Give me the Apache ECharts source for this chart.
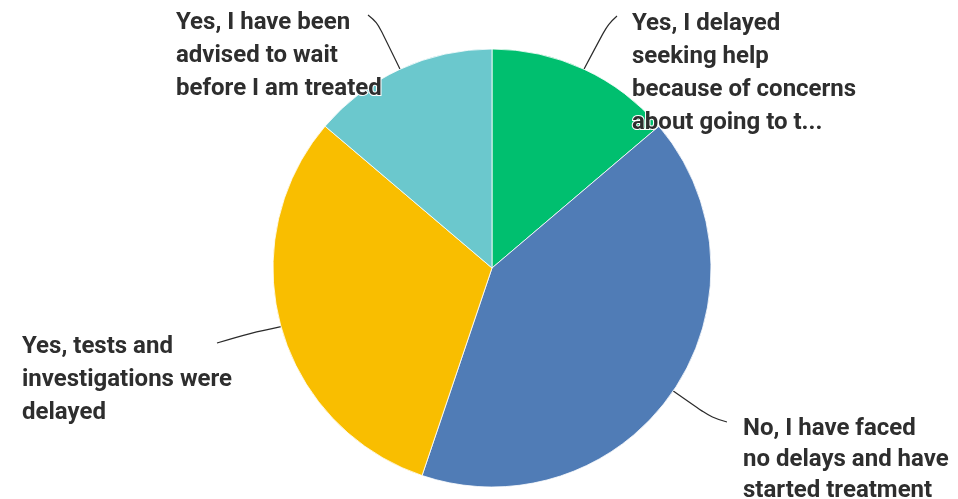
<!DOCTYPE html>
<html>
<head>
<meta charset="utf-8">
<script src="https://cdn.jsdelivr.net/npm/echarts@6/dist/echarts.min.js"></script>
<style>
  html, body { margin: 0; padding: 0; background: #ffffff; }
  #chart { width: 958px; height: 499px; }
</style>
</head>
<body>
<div id="chart"></div>
<script>
// ---- data ----
const labelLines = [
  ["Yes, I delayed", "seeking help", "because of concerns", "about going to t..."],
  ["No, I have faced", "no delays and have", "started treatment"],
  ["Yes, tests and", "investigations were", "delayed"],
  ["Yes, I have been", "advised to wait", "before I am treated"]
];
const categories = labelLines.map(l => l.join(' '));
const responses = [4, 12, 9, 4];
const colors = ["#00bf6f", "#507cb6", "#f9be00", "#6bc8cd"];

// ---- layout (label placement, not data) ----
const labelPos = [
  { x: 632, y: 7,   lh: 33, mid: [608, 24],  end: [617, 16] },
  { x: 743, y: 413, lh: 31, mid: [712, 418], end: [727, 422] },
  { x: 22,  y: 330, lh: 33, mid: [250, 333], end: [217, 343] },
  { x: 176, y: 6,   lh: 33, mid: [377, 22],  end: [368, 15] }
];

const chart = echarts.init(document.getElementById('chart'), null, { renderer: 'canvas' });
chart.setOption({
  animation: false,
  backgroundColor: '#ffffff',
  series: [{
    type: 'pie',
    center: [492, 268],
    radius: 219,
    startAngle: 90,
    clockwise: true,
    avoidLabelOverlap: false,
    data: categories.map((c, i) => ({
      name: c,
      value: responses[i],
      itemStyle: { color: colors[i] },
      label: { lineHeight: labelPos[i].lh }
    })),
    itemStyle: { borderColor: '#ffffff', borderWidth: 0.8 },
    label: {
      show: true,
      position: 'outside',
      formatter: p => labelLines[p.dataIndex].join('\n'),
      fontFamily: 'Roboto, "Noto Sans", sans-serif',
      fontWeight: 'bold',
      fontSize: 24,
      lineHeight: 33,
      color: '#2e2e2e',
      textBorderColor: '#ffffff',
      textBorderWidth: 2
    },
    labelLine: {
      show: true,
      smooth: 0.4,
      lineStyle: { color: '#2a2a2a', width: 1.2 }
    },
    labelLayout: function (params) {
      const i = params.dataIndex;
      const lp = labelPos[i];
      const start = params.labelLinePoints ? params.labelLinePoints[0] : lp.mid;
      return {
        x: lp.x,
        y: lp.y,
        align: 'left',
        verticalAlign: 'top',
        labelLinePoints: [start, lp.mid, lp.end]
      };
    }
  }]
});
</script>
</body>
</html>
